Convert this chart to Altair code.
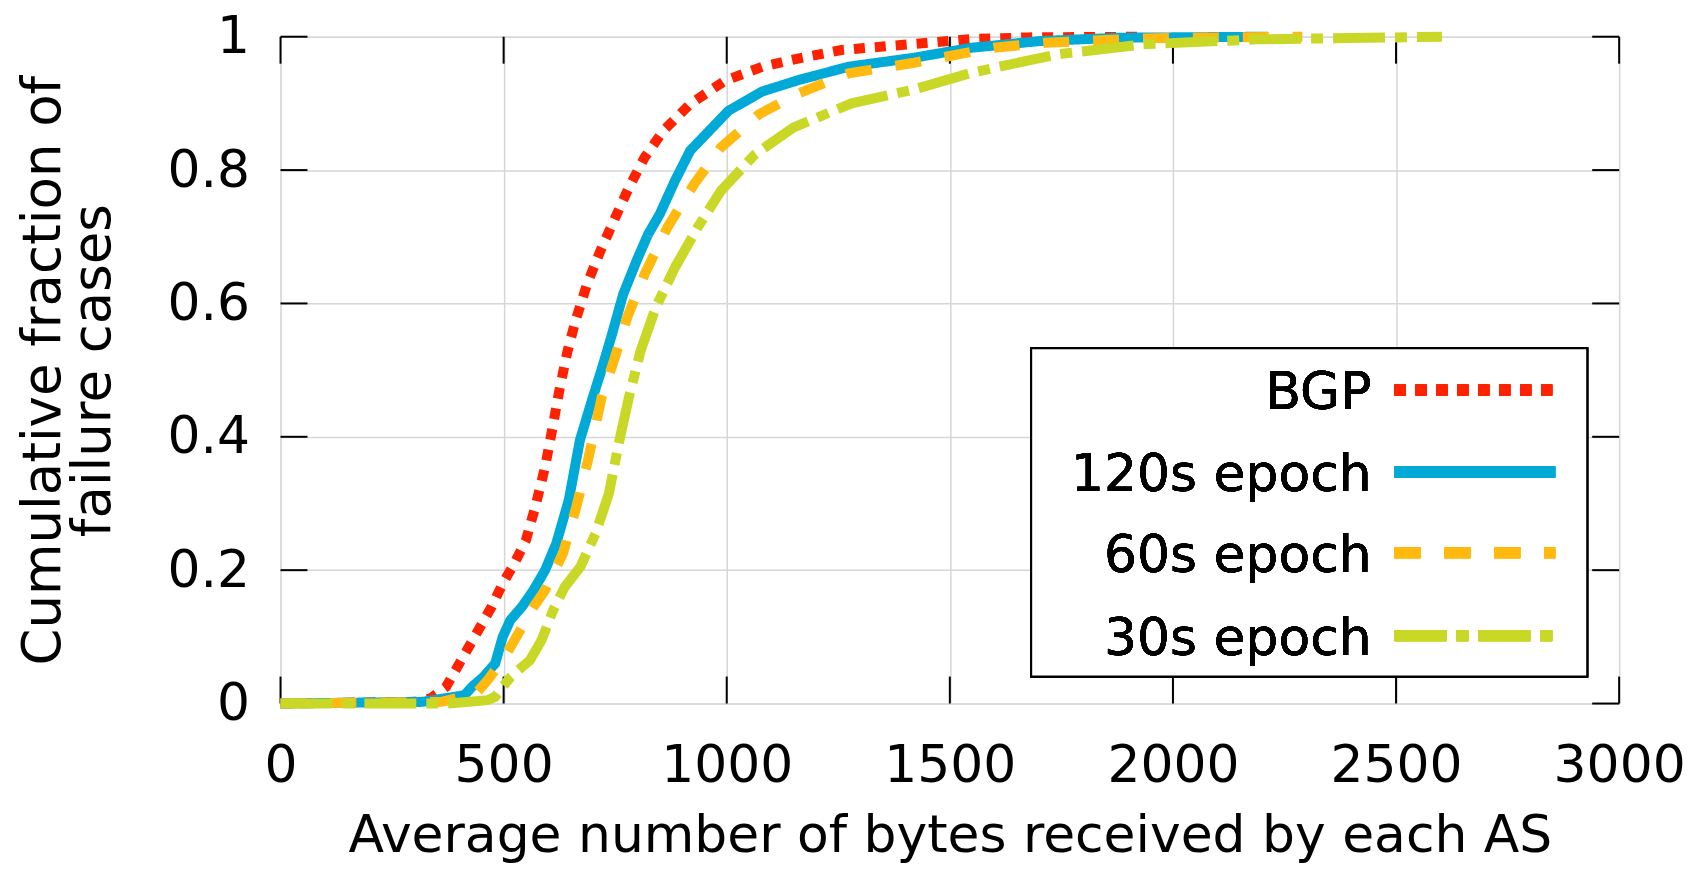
import altair as alt
import pandas as pd

# ---- data ----
bgp_x = [0, 300, 336, 371, 405, 439, 473, 498, 524, 550, 571, 593, 610, 625, 642, 661, 687, 717, 747, 781, 816, 858, 918, 996, 1080, 1165, 1257, 1408, 1549, 1676, 1932]
bgp_y = [0, 0.0025, 0.0075, 0.025, 0.065, 0.105, 0.145, 0.18, 0.21, 0.245, 0.295, 0.355, 0.415, 0.47, 0.525, 0.574, 0.629, 0.679, 0.724, 0.774, 0.819, 0.859, 0.899, 0.934, 0.955, 0.968, 0.980, 0.9885, 0.9965, 0.999, 1.0]

e120_x = [0, 318, 412, 429, 455, 481, 498, 515, 541, 567, 593, 618, 646, 671, 698, 721, 743, 768, 798, 824, 850, 884, 918, 1004, 1080, 1161, 1273, 1420, 1549, 1702, 1881, 2213]
e120_y = [0, 0.0025, 0.0125, 0.025, 0.04, 0.06, 0.1, 0.125, 0.145, 0.17, 0.2, 0.24, 0.305, 0.395, 0.455, 0.504, 0.554, 0.614, 0.664, 0.704, 0.734, 0.784, 0.829, 0.889, 0.918, 0.935, 0.955, 0.9685, 0.9835, 0.9935, 0.9985, 1.0]

e60_x = [0, 361, 438, 464, 481, 507, 533, 567, 593, 633, 663, 689, 720, 747, 777, 816, 867, 927, 987, 1073, 1161, 1273, 1420, 1599, 1714, 1932, 2290]
e60_y = [0, 0.0025, 0.015, 0.035, 0.05, 0.075, 0.105, 0.145, 0.17, 0.225, 0.295, 0.365, 0.46, 0.514, 0.579, 0.644, 0.714, 0.779, 0.834, 0.884, 0.915, 0.945, 0.961, 0.9835, 0.991, 0.9975, 1.0]

e30_x = [0, 378, 464, 481, 498, 516, 533, 559, 585, 611, 637, 672, 706, 736, 758, 781, 807, 841, 884, 935, 987, 1064, 1150, 1280, 1420, 1549, 1740, 1932, 2188, 2603]
e30_y = [0, 0, 0.005, 0.01, 0.025, 0.04, 0.05, 0.065, 0.095, 0.14, 0.175, 0.205, 0.255, 0.315, 0.39, 0.46, 0.529, 0.594, 0.654, 0.714, 0.769, 0.824, 0.864, 0.90, 0.921, 0.946, 0.9735, 0.9885, 0.996, 1.0]

series_names = ["BGP", "120s epoch", "60s epoch", "30s epoch"]
series_x = [bgp_x, e120_x, e60_x, e30_x]
series_y = [bgp_y, e120_y, e60_y, e30_y]

x_ticks = [0, 500, 1000, 1500, 2000, 2500, 3000]
y_ticks = [0, 0.2, 0.4, 0.6, 0.8, 1.0]

# ---- styles ----
colors = ["#ff2200", "#00a9d6", "#ffb90f", "#c9d826"]
dashes = [[11, 10], [1, 0], [26, 24], [52, 10, 12, 10]]
FONT = "DejaVu Sans"
W, H = 1341, 668
TL = 27  # inward tick length

xs = alt.Scale(domain=[0, 3000], nice=False, zero=False)
ys = alt.Scale(domain=[0, 1], nice=False, zero=False)

xticks_df = pd.DataFrame({"v": x_ticks})
yticks_df = pd.DataFrame({"v": y_ticks})

# base layer with axes and grid
base = alt.Chart(xticks_df).mark_point(opacity=0).encode(
    x=alt.X("v:Q", scale=xs,
            axis=alt.Axis(values=x_ticks, format="d", title="Average number of bytes received by each AS",
                          grid=True, gridColor="#d6d6d6", gridWidth=1.5,
                          ticks=False, tickSize=0, domain=False,
                          labelFont=FONT, labelFontSize=52, labelColor="black", labelPadding=37,
                          labelFlush=False, labelOverlap=False,
                          titleFont=FONT, titleFontSize=52, titleFontWeight="normal", titleColor="black",
                          titleX=W / 2, titleY=107, titleBaseline="top", titleAlign="center")),
    y=alt.Y("yv:Q", scale=ys,
            axis=alt.Axis(values=y_ticks, format="~g", title=["Cumulative fraction of", "failure cases"],
                          grid=True, gridColor="#d6d6d6", gridWidth=1.5,
                          ticks=False, tickSize=0, domain=False,
                          labelFont=FONT, labelFontSize=52, labelColor="black", labelPadding=31,
                          labelFlush=False, labelOverlap=False,
                          titleFont=FONT, titleFontSize=53, titleFontWeight="normal", titleColor="black",
                          titleX=-263, titleY=H / 2, titleBaseline="top", titleAlign="center",
                          titleAngle=270, titleLineHeight=50)),
).transform_calculate(yv="0")

# inward ticks on four sides
tick_top = alt.Chart(xticks_df).mark_rule(color="black", strokeWidth=2).encode(
    x=alt.X("v:Q", scale=xs), y=alt.value(0), y2=alt.value(TL))
tick_bot = alt.Chart(xticks_df).mark_rule(color="black", strokeWidth=2).encode(
    x=alt.X("v:Q", scale=xs), y=alt.value(H), y2=alt.value(H - TL))
tick_left = alt.Chart(yticks_df).mark_rule(color="black", strokeWidth=2).encode(
    y=alt.Y("v:Q", scale=ys), x=alt.value(0), x2=alt.value(TL))
tick_right = alt.Chart(yticks_df).mark_rule(color="black", strokeWidth=2).encode(
    y=alt.Y("v:Q", scale=ys), x=alt.value(W - TL), x2=alt.value(W))

layers = [base, tick_top, tick_bot, tick_left, tick_right]

for name, sx, sy, c, d in zip(series_names, series_x, series_y, colors, dashes):
    df = pd.DataFrame({"x": sx, "y": sy, "s": name})
    layers.append(
        alt.Chart(df).mark_line(color=c, strokeWidth=10, strokeDash=d, strokeCap="butt",
                                strokeJoin="miter", clip=False).encode(
            x=alt.X("x:Q", scale=xs), y=alt.Y("y:Q", scale=ys), order="x:Q")
    )

# legend box (manual, label left of sample line)
legend_box = alt.Chart(xticks_df).mark_rect(fill="white", stroke="black", strokeWidth=2).encode(
    x=alt.value(752), x2=alt.value(1309), y=alt.value(312), y2=alt.value(641))
layers.append(legend_box)

row_y = [354, 436, 517, 600]
for name, c, d, ry in zip(series_names, colors, dashes, row_y):
    layers.append(alt.Chart(xticks_df).mark_text(
        text=name, font=FONT, fontSize=52, align="right", baseline="middle", color="black").encode(
        x=alt.value(1093), y=alt.value(ry + 3)))
    layers.append(alt.Chart(xticks_df).mark_rule(
        color=c, strokeWidth=11, strokeDash=d, strokeCap="butt").encode(
        x=alt.value(1116), x2=alt.value(1277), y=alt.value(ry)))

chart = alt.layer(*layers).properties(
    width=W, height=H,
    autosize=alt.AutoSizeParams(type="none"),
    padding={"left": 273, "top": 28, "right": 80, "bottom": 164},
).configure_view(stroke="black", strokeWidth=2).configure(background="white")

chart.save("out.html", embed_options={"renderer": "svg", "actions": False})
